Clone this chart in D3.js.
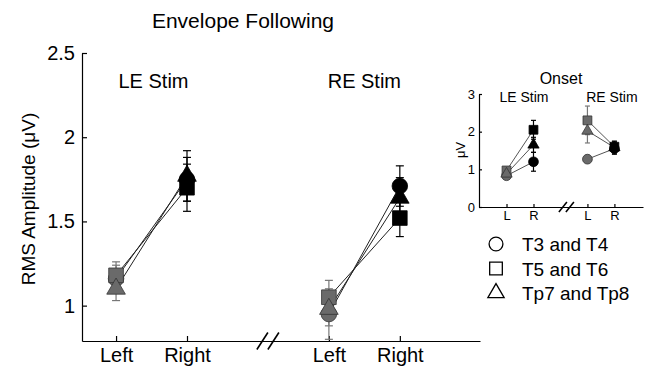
<!DOCTYPE html>
<html>
<head>
<meta charset="utf-8">
<script src="https://cdn.jsdelivr.net/npm/d3@7"></script>
<style>
  body { margin: 0; background: #fff; }
  svg { font-family: Arial, "Liberation Sans", sans-serif; }
  .axis path, .axis line { stroke: #000; stroke-width: 1.2; }
  .axis text { fill: #000; }
</style>
</head>
<body>
<div id="chart"></div>
<script>
// Data
const groups = ["LE Stim", "RE Stim"];
const sides = ["Left", "Right"];
const insetSides = ["L", "R"];
const seriesNames = ["T3 and T4", "T5 and T6", "Tp7 and Tp8"];
const seriesShapes = ["circle", "square", "triangle"];

// main panel: envelope following RMS amplitude, [group][side]
const circleMain = [[1.16, 1.75], [0.95, 1.71]];
const squareMain = [[1.18, 1.70], [1.05, 1.52]];
const triangleMain = [[1.10, 1.77], [0.98, 1.64]];
const circleMainErr = [[0.08, 0.13], [0.15, 0.12]];
const squareMainErr = [[0.08, 0.14], [0.10, 0.11]];
const triangleMainErr = [[0.07, 0.15], [0.10, 0.12]];

// inset: onset
const circleOnset = [[0.83, 1.20], [1.27, 1.55]];
const squareOnset = [[0.97, 2.05], [2.30, 1.60]];
const triangleOnset = [[0.88, 1.65], [2.02, 1.58]];
const circleOnsetErr = [[0.06, 0.25], [0.10, 0.15]];
const squareOnsetErr = [[0.08, 0.25], [0.38, 0.15]];
const triangleOnsetErr = [[0.06, 0.20], [0.32, 0.15]];

const mainTicks = [1, 1.5, 2, 2.5];
const onsetTicks = [0, 1, 2, 3];

const svg = d3.select("#chart").append("svg")
  .attr("width", 652)
  .attr("height", 366);

const symbolType = { circle: d3.symbolCircle, square: d3.symbolSquare, triangle: d3.symbolTriangle };

function buildSeries(vals, errs) {
  return seriesShapes.map((shape, i) => ({ shape, name: seriesNames[i], vals: vals[i], errs: errs[i] }));
}

// draws one panel (main or inset)
function drawPanel(g, opt) {
  const x = d3.scaleLinear().domain(opt.xDomain).range(opt.xRange);
  const y = d3.scaleLinear().domain(opt.yDomain).range(opt.yRange);
  const pos = (gi, si) => gi * 3 + si;

  // axes
  g.append("g")
    .attr("class", "axis")
    .attr("transform", `translate(${opt.xRange[0]},0)`)
    .call(d3.axisLeft(y).tickValues(opt.yTicks).tickSize(-opt.tick).tickSizeOuter(0).tickPadding(opt.yPad)
      .tickFormat(d3.format("")))
    .call(a => a.selectAll("text").attr("font-size", opt.font));

  const xTickVals = [0, 1, 3, 4];
  g.append("g")
    .attr("class", "axis")
    .attr("transform", `translate(0,${opt.yRange[0]})`)
    .call(d3.axisBottom(x).tickValues(xTickVals).tickSize(-opt.tick).tickSizeOuter(0).tickPadding(opt.xPad)
      .tickFormat(d => opt.sideLabels[d % 3]))
    .call(a => a.selectAll("text").attr("font-size", opt.font));

  // axis break marks
  const bx = x(opt.breakAt), by = opt.yRange[0];
  [-opt.breakGap / 2, opt.breakGap / 2].forEach(off => {
    g.append("line")
      .attr("x1", bx + off - opt.breakW / 2).attr("y1", by + opt.breakH / 2)
      .attr("x2", bx + off + opt.breakW / 2).attr("y2", by - opt.breakH / 2)
      .attr("stroke", "#000").attr("stroke-width", 1.6);
  });

  // group labels
  groups.forEach((name, gi) => {
    g.append("text")
      .attr("x", x(pos(gi, 0.5)) + opt.groupLabelDx[gi])
      .attr("y", opt.groupLabelY)
      .attr("text-anchor", "middle")
      .attr("font-size", opt.groupFont)
      .text(name);
  });

  const series = opt.series;

  // connecting lines
  groups.forEach((name, gi) => {
    series.forEach(s => {
      g.append("line")
        .attr("x1", x(pos(gi, 0))).attr("y1", y(s.vals[gi][0]))
        .attr("x2", x(pos(gi, 1))).attr("y2", y(s.vals[gi][1]))
        .attr("stroke", opt.lineColor).attr("stroke-width", opt.lineW);
    });
  });

  // error bars
  groups.forEach((name, gi) => {
    sides.forEach((sd, si) => {
      series.forEach(s => {
        const cx = x(pos(gi, si));
        const v = s.vals[gi][si], e = s.errs[gi][si];
        const col = si === 0 ? "#777" : "#000";
        const eb = g.append("g").attr("stroke", col).attr("stroke-width", 1.2);
        eb.append("line").attr("x1", cx).attr("x2", cx).attr("y1", y(v - e)).attr("y2", y(v + e));
        [v - e, v + e].forEach(t => eb.append("line")
          .attr("x1", cx - opt.cap).attr("x2", cx + opt.cap).attr("y1", y(t)).attr("y2", y(t)));
      });
    });
  });

  // markers
  groups.forEach((name, gi) => {
    sides.forEach((sd, si) => {
      series.forEach(s => {
        g.append("path")
          .attr("d", d3.symbol(symbolType[s.shape], opt.sizes[s.shape])())
          .attr("transform", `translate(${x(pos(gi, si))},${y(s.vals[gi][si])})`)
          .attr("fill", si === 0 ? "#6a6a6a" : "#000")
          .attr("stroke", si === 0 ? "#333" : "#000")
          .attr("stroke-width", 0.8);
      });
    });
  });
  return { x, y };
}

// main panel
const main = svg.append("g");
drawPanel(main, {
  xDomain: [-0.48, 5.13], xRange: [82, 480],
  yDomain: [0.79, 2.5], yRange: [341, 53],
  yTicks: mainTicks, tick: 5, yPad: 7, xPad: 7, font: 20,
  sideLabels: sides, breakAt: 2.14, breakGap: 11, breakW: 11, breakH: 17,
  groupLabelY: 88, groupLabelDx: [2, 0], groupFont: 20,
  series: buildSeries([circleMain, squareMain, triangleMain], [circleMainErr, squareMainErr, triangleMainErr]),
  lineColor: "#222", lineW: 1, cap: 4,
  sizes: { circle: 190, square: 215, triangle: 150 }
});

svg.append("text")
  .attr("x", 243).attr("y", 28)
  .attr("text-anchor", "middle")
  .attr("font-size", 21)
  .text("Envelope Following");

svg.append("text")
  .attr("transform", "translate(35,199) rotate(-90)")
  .attr("text-anchor", "middle")
  .attr("font-size", 19)
  .text("RMS Amplitude (\u03BCV)");

// inset panel
const inset = svg.append("g");
drawPanel(inset, {
  xDomain: [-1.02, 5.06], xRange: [479, 643],
  yDomain: [0, 3], yRange: [207, 94],
  yTicks: onsetTicks, tick: 3, yPad: 4, xPad: 4, font: 13,
  sideLabels: insetSides, breakAt: 2.22, breakGap: 7, breakW: 8, breakH: 10,
  groupLabelY: 102, groupLabelDx: [4, 11], groupFont: 14,
  series: buildSeries([circleOnset, squareOnset, triangleOnset], [circleOnsetErr, squareOnsetErr, triangleOnsetErr]),
  lineColor: "#555", lineW: 1, cap: 2.5,
  sizes: { circle: 75, square: 78, triangle: 55 }
});

svg.append("text")
  .attr("x", 561).attr("y", 84)
  .attr("text-anchor", "middle")
  .attr("font-size", 16)
  .text("Onset");

svg.append("text")
  .attr("transform", "translate(465,150) rotate(-90)")
  .attr("text-anchor", "middle")
  .attr("font-size", 13)
  .text("\u03BCV");

// legend
const legend = svg.append("g").attr("transform", "translate(496,244)");
seriesShapes.forEach((shape, i) => {
  const row = legend.append("g").attr("transform", `translate(0,${i * 24.5})`);
  row.append("path")
    .attr("d", d3.symbol(symbolType[shape], { circle: 150, square: 160, triangle: 115 }[shape])())
    .attr("fill", "none").attr("stroke", "#000").attr("stroke-width", 1.3);
  row.append("text")
    .attr("x", 26).attr("y", 7)
    .attr("font-size", 19)
    .text(seriesNames[i]);
});
</script>
</body>
</html>
